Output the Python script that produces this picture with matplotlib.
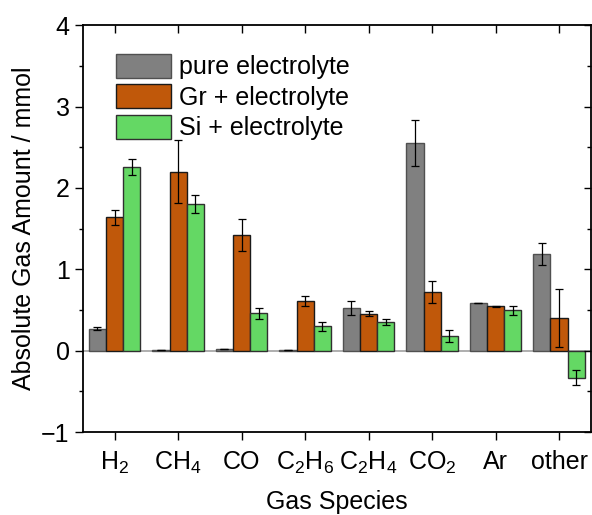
import numpy as np
import matplotlib
matplotlib.use("Agg")
import matplotlib.pyplot as plt
from matplotlib.ticker import MultipleLocator

plt.rcParams['font.family'] = ['Liberation Sans', 'DejaVu Sans']
plt.rcParams['mathtext.default'] = 'regular'

# gas species on the x axis
categories = ['H$_2$', 'CH$_4$', 'CO', 'C$_2$H$_6$', 'C$_2$H$_4$', 'CO$_2$', 'Ar', 'other']

# absolute gas amounts (mmol) and error bars
pure = [0.27, 0.005, 0.02, 0.005, 0.52, 2.55, 0.585, 1.185]
pure_err = [0.02, 0, 0, 0, 0.086, 0.28, 0, 0.135]
gr = [1.64, 2.20, 1.42, 0.61, 0.456, 0.72, 0.545, 0.40]
gr_err = [0.09, 0.39, 0.196, 0.06, 0.033, 0.135, 0.01, 0.36]
si = [2.26, 1.80, 0.46, 0.30, 0.35, 0.18, 0.50, -0.33]
si_err = [0.098, 0.11, 0.07, 0.057, 0.035, 0.07, 0.055, 0.088]

series = [
    ("pure electrolyte", pure, pure_err, "#808080", "#505050"),
    ("Gr + electrolyte", gr, gr_err, "#c0580a", "#1a1a1a"),
    ("Si + electrolyte", si, si_err, "#64d864", "#303030"),
]

fig = plt.figure(figsize=(5.92, 5.15), dpi=100)
pos = [0.140, 0.161, 0.858, 0.790]
ax = fig.add_axes(pos)

x = np.arange(len(categories))
w = 0.27
fs = 18

ax.axhline(0, color="#a8a8a8", lw=1.3, zorder=1)
for i, (label, vals, errs, fc, ec) in enumerate(series):
    ax.bar(x + (i - 1) * w, vals, w, color=fc, edgecolor=ec, linewidth=1.0,
           label=label, zorder=2)
    ax.errorbar(x + (i - 1) * w, vals, yerr=errs, fmt='none', ecolor='black',
                elinewidth=0.9, capsize=3, capthick=0.9, zorder=3)

ax.set_xlim(-0.5, 7.5)
ax.set_ylim(-1, 4)
ax.set_xticks(x)
ax.set_xticklabels(categories, fontsize=fs)
ax.yaxis.set_major_locator(MultipleLocator(1))
ax.yaxis.set_minor_locator(MultipleLocator(0.5))
ax.tick_params(axis='both', which='major', direction='out', length=6, width=1.0,
               labelsize=fs)
ax.tick_params(axis='x', which='major', pad=7)
ax.tick_params(axis='y', which='minor', direction='out', length=3, width=1.0)
for s in ax.spines.values():
    s.set_linewidth(1.3)

# mirrored ticks pointing inward on top and right, drawn as short lines
tx = ax.get_xaxis_transform()
ty = ax.get_yaxis_transform()
ax.vlines(x, 1 - 0.02, 1, transform=tx, color='black', lw=1.0, clip_on=False, zorder=4)
ymaj = np.arange(-1, 4.5, 1)
ymin = np.arange(-0.5, 4, 1)
ax.hlines(ymaj, 1 - 0.014, 1, transform=ty, color='black', lw=1.0, clip_on=False, zorder=4)
ax.hlines(ymin, 1 - 0.007, 1, transform=ty, color='black', lw=1.0, clip_on=False, zorder=4)

ax.set_xlabel("Gas Species", fontsize=fs, labelpad=10)
ax.set_ylabel("Absolute Gas Amount / mmol", fontsize=fs, labelpad=4)

ax.legend(loc='upper left', bbox_to_anchor=(0.045, 0.955), frameon=False,
          fontsize=fs, handlelength=2.2, handleheight=1.1, handletextpad=0.35,
          labelspacing=0.2, borderaxespad=0)

fig.savefig("out.png", dpi=100)
